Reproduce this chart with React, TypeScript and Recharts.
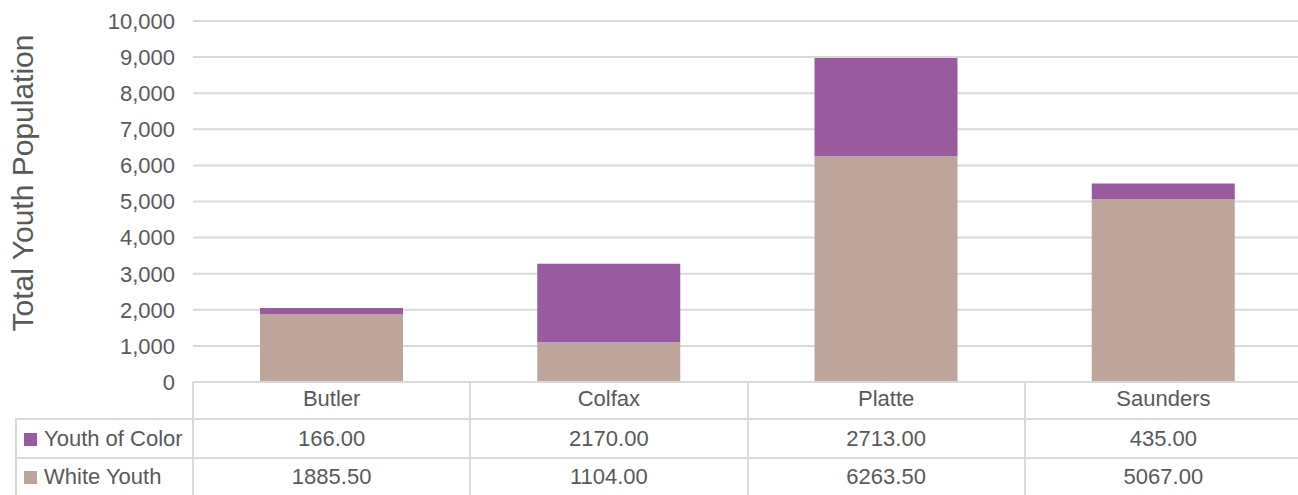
import React from "react";
import { Bar, BarChart, CartesianGrid, XAxis, YAxis } from "recharts";

const counties = ["Butler", "Colfax", "Platte", "Saunders"];
const youthOfColor = [166, 2170, 2713, 435];
const whiteYouth = [1885.5, 1104, 6263.5, 5067];
const yTicks = [0, 1000, 2000, 3000, 4000, 5000, 6000, 7000, 8000, 9000, 10000];

const PURPLE = "#9a5aa0";
const TAN = "#bea59c";
const GRID = "#d9d9d9";
const TEXT = "#595959";
const FONT = "'Liberation Sans', Arial, sans-serif";

const W = 1298;
const CHART_W = 1302;
const H = 495;
const LEFT = 193;
const TOP = 21;
const AXIS_Y = 382;
const ROW1 = 419;
const ROW2 = 458;
const COL_W = (CHART_W - LEFT) / counties.length;

const data = counties.map((name, i) => ({
  name,
  white: whiteYouth[i],
  color: youthOfColor[i],
}));

const rows = [
  { label: "Youth of Color", fill: PURPLE, values: youthOfColor },
  { label: "White Youth", fill: TAN, values: whiteYouth },
];

const YLabel = () => (
  <text
    x={0}
    y={0}
    transform="translate(33, 183) rotate(-90)"
    textAnchor="middle"
    fill={TEXT}
    fontSize={30}
    fontFamily={FONT}
  >
    Total Youth Population
  </text>
);

export default function App() {
  return (
    <div
      style={{
        position: "absolute",
        left: 0,
        top: 0,
        width: W,
        height: H,
        overflow: "hidden",
        background: "#fff",
        fontFamily: FONT,
        color: TEXT,
      }}
    >
      <BarChart
        width={CHART_W}
        height={H}
        data={data}
        margin={{ top: TOP, right: 0, left: 0, bottom: H - ROW1 }}
      >
        <CartesianGrid vertical={false} stroke={GRID} strokeWidth={2} />
        <XAxis
          dataKey="name"
          height={ROW1 - AXIS_Y}
          tickLine={false}
          tickSize={0}
          tickMargin={8}
          axisLine={{ stroke: GRID, strokeWidth: 2 }}
          tick={{ fill: TEXT, fontSize: 22, fontFamily: FONT }}
          interval={0}
        />
        <YAxis
          width={LEFT}
          domain={[0, 10000]}
          ticks={yTicks}
          tickFormatter={(v: number) => v.toLocaleString("en-US")}
          axisLine={false}
          tickLine={false}
          tickSize={0}
          tickMargin={18}
          tick={{ fill: TEXT, fontSize: 22, fontFamily: FONT }}
          label={<YLabel />}
        />
        <Bar dataKey="white" stackId="a" fill={TAN} barSize={143} isAnimationActive={false} />
        <Bar dataKey="color" stackId="a" fill={PURPLE} barSize={143} isAnimationActive={false} />
      </BarChart>

      {counties.map((c, i) => (
        <div
          key={"v" + c}
          style={{
            position: "absolute",
            left: LEFT + i * COL_W - 1,
            top: AXIS_Y,
            width: 2,
            height: H - AXIS_Y,
            background: GRID,
          }}
        />
      ))}
      <div style={{ position: "absolute", left: 15, top: ROW1, width: 2, height: H - ROW1, background: GRID }} />
      <div style={{ position: "absolute", left: 15, top: ROW1 - 1, width: W - 15, height: 2, background: GRID }} />
      <div style={{ position: "absolute", left: 15, top: ROW2 - 1, width: W - 15, height: 2, background: GRID }} />

      {rows.map((r, ri) => {
        const top = ri === 0 ? ROW1 : ROW2;
        const h = ri === 0 ? ROW2 - ROW1 : H - ROW2;
        return (
          <React.Fragment key={r.label}>
            <div
              style={{
                position: "absolute",
                left: 24,
                top: top + h / 2 - 6,
                width: 13,
                height: 13,
                background: r.fill,
              }}
            />
            <div
              style={{
                position: "absolute",
                left: 44,
                top,
                height: h,
                lineHeight: h + "px",
                fontSize: 22,
                whiteSpace: "nowrap",
              }}
            >
              {r.label}
            </div>
            {r.values.map((v, ci) => (
              <div
                key={ci}
                style={{
                  position: "absolute",
                  left: LEFT + ci * COL_W,
                  top,
                  width: COL_W,
                  height: h,
                  lineHeight: h + "px",
                  textAlign: "center",
                  fontSize: 22,
                }}
              >
                {v.toFixed(2)}
              </div>
            ))}
          </React.Fragment>
        );
      })}
    </div>
  );
}
